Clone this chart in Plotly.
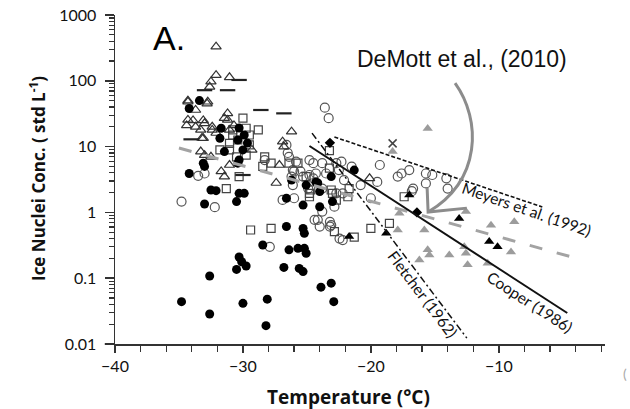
import math
import plotly.graph_objects as go

# ---------------- data (Temperature degC, IN concentration std L-1) ----------------
tri_open_T = [-32.1, -32.1, -31.05, -32.5, -32.6, -34.3, -32.75, -33.7, -33.9, -33.1, -31.2, -31.45,
              -34.4, -33.7, -33.0, -32.4, -30.7, -26.2, -33.1, -26.9, -26.8, -33.3, -33.0, -32.5,
              -31.05, -27.15, -31.7, -31.45, -27.4, -34.3, -33.3, -32.4, -32.1, -33.2, -31.05,
              -20.1, -34.3, -32.8, -31.2, -29.3]
tri_open_N = [330, 122, 113, 97, 81, 50, 48, 36, 25, 25, 32, 27,
              21, 20, 22.6, 20, 21, 16.9, 13.4, 11.9, 10, 8.4, 7.4, 7.0,
              5.25, 5.25, 4.2, 3.5, 2.8, 25.4, 17.9, 17.9, 16.1, 13.5, 17.9,
              3.3, 48, 45, 25.4, 8.9]

circ_black_T = [-33.4, -34.2, -31.7, -31.8, -31.45, -33.1, -33.0, -34.2, -30.3, -30.4, -25.06, -24.15,
                -23.1, -32.5, -32.1, -30.3, -29.9, -24.0, -30.3, -29.9, -30.4, -29.65, -30.0, -21.3,
                -26.2, -24.3,
                -30.5, -33.0, -26.6, -25.3, -24.0, -26.6, -25.3, -25.2, -28.45, -26.4, -25.7, -25.2,
                -25.06, -30.3, -30.1, -30.5, -29.75, -26.8, -25.6, -25.3, -23.1, -23.9, -32.6, -34.8,
                -32.6, -30.0, -28.1, -28.2, -22.9, -23.0]
circ_black_N = [50, 38, 19, 13.4, 8.4, 5.6, 5.0, 3.9, 6.25, 5.6, 2.6, 2.8,
                3.5, 2.19, 2.14, 1.95, 1.95, 2.07, 19.2, 15, 12.6, 11.3, 8.9, 4.4,
                3.1, 2.9,
                1.46, 1.34, 1.64, 1.29, 1.22, 0.61, 0.57, 0.48, 0.32, 0.27, 0.284, 0.284,
                0.239, 0.21, 0.178, 0.136, 0.153, 0.146, 0.141, 0.126, 0.084, 0.073, 0.108, 0.044,
                0.0286, 0.0415, 0.048, 0.019, 0.044, 1.46]

circ_open_T = [-23.6, -23.3, -26.6, -26.4, -25.85, -24.5, -23.8, -22.7, -26.0, -25.3, -24.8, -24.3,
               -23.5, -22.5, -26.2, -22.1, -33.5, -33.0, -34.8, -32.2, -22.2, -26.1, -26.0, -23.8,
               -24.15, -23.2, -24.0, -23.2, -22.2, -27.9, -26.9, -26.5, -28.3, -26.1, -24.8, -24.9,
               -23.8, -22.7, -22.85, -24.4, -23.1, -22.45, -22.3, -21.5, -19.3, -20.8, -20.0, -19.5,
               -17.9, -17.6, -17.0, -15.7, -15.2, -14.1, -15.7, -14.0, -16.7, -24.5, -25.5, -16.8]
circ_open_N = [39, 27, 10.6, 7.0, 5.9, 5.6, 5.6, 5.6, 4.2, 3.5, 3.7, 3.9,
               3.9, 4.4, 3.5, 3.1, 3.6, 3.9, 1.46, 1.2, 1.95, 2.6, 1.64, 1.03,
               0.77, 0.72, 0.61, 0.61, 0.38, 0.30, 1.55, 8.0, 6.25, 4.4, 6.25, 2.3,
               2.3, 1.95, 1.22, 0.77, 0.64, 0.40, 5.9, 4.95, 5.25, 2.6, 1.64, 2.9,
               3.5, 3.9, 4.4, 3.9, 3.7, 3.3, 2.76, 2.3, 2.3, 3.3, 4.2, 2.1]

sq_open_T = [-30.0, -30.8, -29.75, -28.8, -30.8, -29.5, -31.8, -31.05, -30.5, -29.75, -28.3, -27.8,
             -28.45, -25.06, -31.3, -24.8, -23.0, -30.4, -31.05, -29.5, -23.24, -25.7, -23.24, -24.7,
             -24.8, -23.1, -21.7, -21.8, -22.7, -22.85, -21.3, -29.4, -27.8, -20.0, -18.55,
             -17.4, -26.4, -30.3]
sq_open_N = [27, 17.9, 19, 17.9, 15, 15, 8.9, 8.9, 7.0, 7.4, 7.0, 5.6,
             5.0, 3.5, 2.3, 1.95, 1.95, 12.6, 11.2, 10.6, 8.7, 5.6, 4.7, 2.19,
             1.73, 2.19, 2.3, 1.73, 1.54, 0.51, 0.42, 0.54, 0.57, 0.57, 0.68,
             1.73, 5.6, 3.5]

dash_T = [-30.3, -33.0, -31.2, -28.6, -26.8, -34.05, -30.0]
dash_N = [103, 72, 72, 36, 32, 12.9, 3.7]

diam_T = [-23.2, -16.4]
diam_N = [11.4, 1.0]

x_T = [-18.3]
x_N = [11.2]

tri_gray_T = [-18.3, -15.56, -17.77, -17.9, -15.82, -15.56, -15.43, -16.21, -13.87, -12.7, -12.57,
              -12.44, -10.87, -12.57, -10.61, -8.79, -9.05]
tri_gray_N = [8.4, 18.9, 0.97, 0.54, 0.54, 0.27, 0.225, 0.189, 0.225, 0.30, 0.24,
              0.16, 0.168, 1.03, 0.64, 0.72, 0.25]

tri_black_T = [-21.7, -18.8, -17.0, -13.1, -10.75, -10.1]
tri_black_N = [0.43, 0.48, 1.84, 0.81, 0.36, 0.30]

# parameterisation lines (end points)
meyers_T = [-22.85, -6.6]
meyers_N = [14, 1.21]
cooper_T = [-24.8, -4.65]
cooper_N = [10.2, 0.0296]
fletcher_T = [-24.6, -12.5]
fletcher_N = [16, 0.0123]
demott_T = [-35.0, -4.3]
demott_N = [9.5, 0.21]

y_tickvals = [0.01, 0.1, 1, 10, 100, 1000]
y_ticktext = ["0.01", "0.1", "1", "10", "100", "1000"]
x_tickvals = [-40, -30, -20, -10]

FONT = "Lato, 'Open Sans', sans-serif"
TFONT = "'Open Sans', Lato, sans-serif"

fig = go.Figure()


def add_pts(T, N, symbol, size, color, line_color, line_width):
    fig.add_trace(go.Scatter(
        x=T, y=N, mode="markers", showlegend=False, hoverinfo="skip",
        marker=dict(symbol=symbol, size=size, color=color,
                    line=dict(color=line_color, width=line_width))))


add_pts(circ_open_T, circ_open_N, "circle-open", 9, "#555555", "#555555", 1.2)
add_pts(sq_open_T, sq_open_N, "square-open", 8, "#444444", "#444444", 1.2)
add_pts(tri_open_T, tri_open_N, "triangle-up-open", 9, "#333333", "#333333", 1.2)
add_pts(circ_black_T, circ_black_N, "circle", 9, "#000000", "#000000", 0)
add_pts(dash_T, dash_N, "line-ew", 11, "#222222", "#222222", 2.2)
add_pts(tri_gray_T, tri_gray_N, "triangle-up", 9, "#9c9c9c", "#9c9c9c", 0)
add_pts(tri_black_T, tri_black_N, "triangle-up", 9, "#000000", "#000000", 0)
add_pts(diam_T, diam_N, "diamond", 8, "#000000", "#000000", 0)
add_pts(x_T, x_N, "x-thin-open", 8, "#444444", "#444444", 1.5)


def add_line(T, N, color, width, dash):
    fig.add_trace(go.Scatter(x=T, y=N, mode="lines", showlegend=False, hoverinfo="skip",
                             line=dict(color=color, width=width, dash=dash)))


add_line(demott_T, demott_N, "#a3a3a3", 3, "13px,15px")
add_line(meyers_T, meyers_N, "#111111", 1.6, "4px,2px")
add_line(cooper_T, cooper_N, "#111111", 2, "solid")
add_line(fletcher_T, fletcher_N, "#111111", 1.5, "7px,3px,2px,3px")

# arrow (paper coordinates)
fig.add_shape(type="path", xref="paper", yref="paper",
              path="M 0.694,0.793 C 0.748,0.681 0.748,0.498 0.639,0.401",
              line=dict(color="#8c8c8c", width=3))
fig.add_shape(type="path", xref="paper", yref="paper",
              path="M 0.637,0.474 L 0.639,0.401 L 0.718,0.413",
              line=dict(color="#8c8c8c", width=3))
# axis line extension to the left of the y axis
fig.add_shape(type="line", xref="paper", yref="paper", x0=-0.021, x1=0, y0=0, y1=0,
              line=dict(color="#333333", width=1.5))


def px_ann(text, x, y, font, angle=0):
    fig.add_annotation(text=text, xref="paper", yref="paper",
                       x=(x - 115) / 490, y=(344 - y) / 329, textangle=angle,
                       showarrow=False, font=font, xanchor="center", yanchor="middle")


px_ann("A.", 169, 38, dict(size=34, color="black", family="Liberation Sans, Arial"))
px_ann("DeMott et al., (2010)", 462, 59, dict(size=23, color="#111111", family="Liberation Sans, Arial"))
px_ann("<b>Ice Nuclei Conc. ( std L<sup>-1</sup>)</b>", 37, 179,
       dict(size=17, color="#111111", family=TFONT), angle=-90)
px_ann("<b>Temperature (°C)</b>", 348, 397, dict(size=19, color="#111111", family=TFONT))
px_ann("(", 625, 373, dict(size=14, color="#aaaaaa", family=FONT))

# line labels (data coordinates, y in log10)
labels = [("Meyers et al. (1992)", -7.85, 1.13, 19),
          ("Cooper (1986)", -7.56, 0.044, 33),
          ("Fletcher (1962)", -15.95, 0.0575, 53)]
for txt, lx, ly, ang in labels:
    fig.add_annotation(text=txt, x=lx, y=math.log10(ly), xref="x", yref="y", showarrow=False,
                       xanchor="center", yanchor="middle",
                       textangle=ang, font=dict(size=15.5, color="#111111", family=FONT))

fig.update_layout(
    template="none",
    width=630, height=409,
    margin=dict(l=115, r=25, t=15, b=65, autoexpand=False),
    paper_bgcolor="white", plot_bgcolor="white",
    font=dict(family=FONT, size=16, color="#111111"),
    xaxis=dict(range=[-40, -1.7], showline=True, linecolor="#333333", linewidth=1.5, automargin=False,
               ticks="outside", tickvals=x_tickvals, ticklen=7, tickwidth=1.5, tickcolor="#333333",
               minor=dict(dtick=2, tick0=-40, ticks="outside", ticklen=6, tickwidth=1.3, tickcolor="#333333",
                          showgrid=False),
               showgrid=False, zeroline=False, tickfont=dict(size=16, family=FONT)),
    yaxis=dict(type="log", range=[-2, 3], showline=True, linecolor="#333333", linewidth=1.5, automargin=False,
               ticks="outside", tickvals=y_tickvals, ticktext=y_ticktext, ticklen=9, tickwidth=1.5,
               tickcolor="#333333",
               minor=dict(dtick="D1", ticks="outside", ticklen=5, tickwidth=1.1, tickcolor="#333333",
                          showgrid=False),
               showgrid=False, zeroline=False, tickfont=dict(size=16, family=FONT),
               ticklabelstandoff=5),
)

fig.write_html("out.html", config={"displayModeBar": False, "staticPlot": True},
               post_script="document.body.style.margin='0px';")
